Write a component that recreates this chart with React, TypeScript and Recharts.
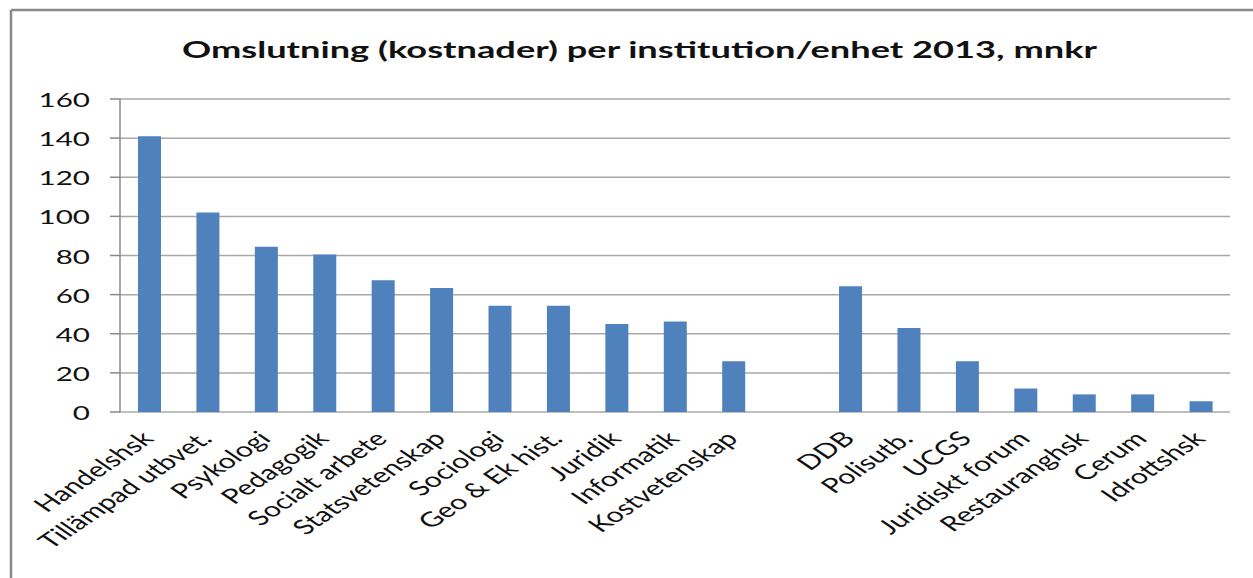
import React from "react";
import { BarChart, Bar, XAxis, YAxis, CartesianGrid } from "recharts";

const categories = [
  "Handelshsk",
  "Tillämpad utbvet.",
  "Psykologi",
  "Pedagogik",
  "Socialt arbete",
  "Statsvetenskap",
  "Sociologi",
  "Geo & Ek hist.",
  "Juridik",
  "Informatik",
  "Kostvetenskap",
  "",
  "DDB",
  "Polisutb.",
  "UCGS",
  "Juridiskt forum",
  "Restauranghsk",
  "Cerum",
  "Idrottshsk",
];

const values: (number | null)[] = [
  141, 102, 84.5, 80.5, 67.3, 63.4, 54.3, 54.3, 45, 46.3, 26, null, 64.3, 43, 26, 12, 9, 9, 5.5,
];

const yTicks = [0, 20, 40, 60, 80, 100, 120, 140, 160];

const title = "Omslutning (kostnader) per institution/enhet 2013, mnkr";

const data = categories.map((name, i) => ({ name, value: values[i] }));
const boundaryTicks = [...categories.map((_, i) => i), categories.length];

const FONT = "Lato, 'Open Sans', sans-serif";
const AXIS = "#8a8a8a";
const GRID = "#a8a8a8";
const STRETCH = 1.48;

const XTick = (props: any) => {
  const { x, y, payload } = props;
  if (!payload || !payload.value) return null;
  return (
    <text
      transform={`translate(${x + 6},${y + 28}) scale(${STRETCH},1) rotate(-45)`}
      textAnchor="end"
      fontSize={20.5}
      fontFamily={FONT}
      fill="#111"
    >
      {payload.value}
    </text>
  );
};

const YTick = (props: any) => {
  const { x, y, payload } = props;
  return (
    <text
      transform={`translate(${x - 20},${y + 8}) scale(1.6,1)`}
      textAnchor="end"
      fontSize={18.5}
      fontFamily={FONT}
      fill="#111"
    >
      {payload.value}
    </text>
  );
};

export default function App() {
  return (
    <div style={{ position: "absolute", left: 0, top: 0, width: 1253, height: 578, background: "#fff" }}>
      <BarChart
        width={1253}
        height={578}
        data={data}
        margin={{ top: 99, right: 23, bottom: 16, left: 0 }}
      >
        <CartesianGrid xAxisId="cat" vertical={false} stroke={GRID} strokeWidth={1.5} />
        <XAxis
          xAxisId="bound"
          type="number"
          domain={[0, categories.length]}
          allowDataOverflow
          ticks={boundaryTicks}
          interval={0}
          tick={false}
          tickSize={8}
          height={0}
          stroke={AXIS}
          axisLine={{ stroke: AXIS, strokeWidth: 1.5 }}
          tickLine={{ stroke: AXIS, strokeWidth: 1.5 }}
        />
        <XAxis
          xAxisId="cat"
          dataKey="name"
          interval={0}
          tick={<XTick />}
          tickLine={false}
          axisLine={false}
          tickSize={0}
          tickMargin={0}
          height={150}
        />
        <YAxis
          width={120}
          domain={[0, 160]}
          ticks={yTicks}
          interval={0}
          tick={<YTick />}
          tickSize={10}
          tickMargin={0}
          axisLine={{ stroke: AXIS, strokeWidth: 1.5 }}
          tickLine={{ stroke: AXIS, strokeWidth: 1.5 }}
        />
        <Bar
          xAxisId="cat"
          dataKey="value"
          fill="#4F81BD"
          barSize={23}
          isAnimationActive={false}
        />
      </BarChart>
      <svg
        width={1253}
        height={578}
        style={{ position: "absolute", left: 0, top: 0, pointerEvents: "none" }}
      >
        <line x1={11} y1={10} x2={1253} y2={10} stroke="#8a8a8a" strokeWidth={2.5} />
        <line x1={11} y1={10} x2={11} y2={578} stroke="#8a8a8a" strokeWidth={2.5} />
        <text
          x={639.5}
          y={58}
          textAnchor="middle"
          fontSize={22}
          fontWeight="bold"
          fontFamily={FONT}
          fill="#111"
          textLength={915}
          lengthAdjust="spacingAndGlyphs"
        >
          {title}
        </text>
      </svg>
    </div>
  );
}
